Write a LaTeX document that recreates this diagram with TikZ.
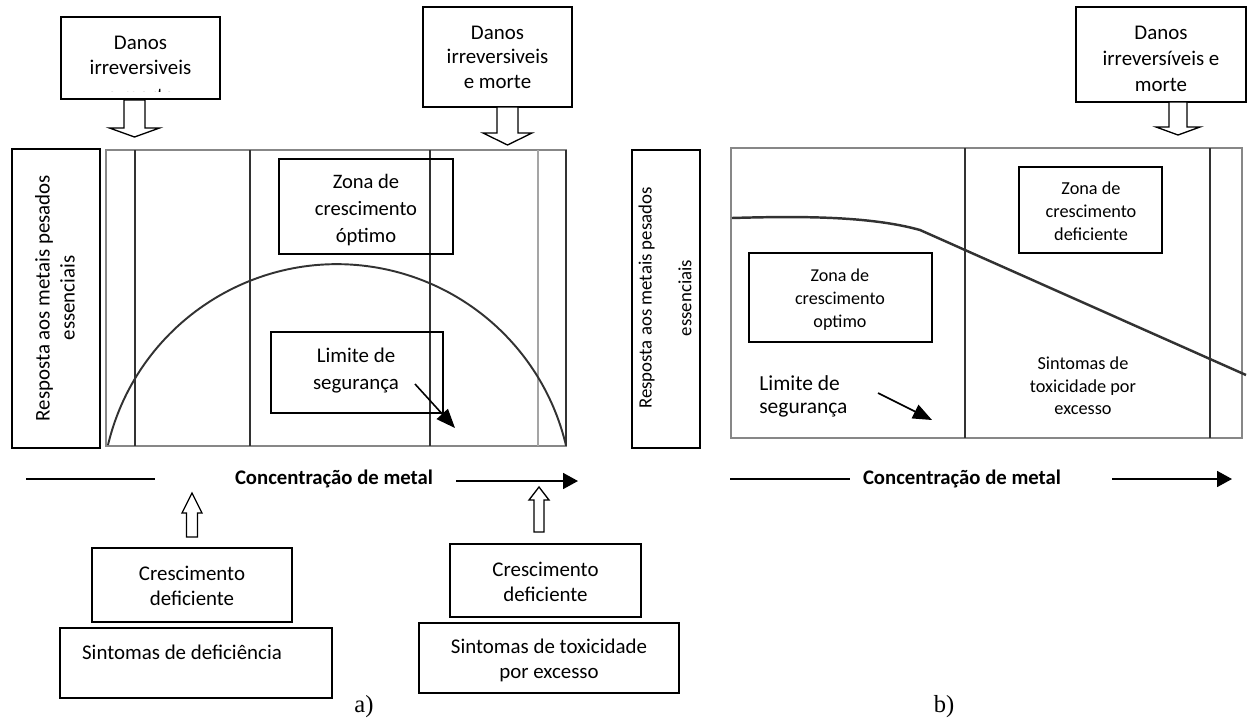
\documentclass[tikz,border=0pt]{standalone}
\usepackage{fontspec}
\setmainfont{Carlito}
\newfontfamily\tnr{Liberation Serif}
\usetikzlibrary{arrows.meta}
\definecolor{frameg}{RGB}{135,135,135}
\definecolor{darkl}{RGB}{50,50,50}
\definecolor{lightl}{RGB}{165,165,165}
\begin{document}
\begin{tikzpicture}[x=0.02cm,y=-0.02cm,
  box/.style={draw=black,line width=0.75pt,inner sep=0pt},
  txt/.style={inner sep=0pt,align=center,font=\fontsize{11.9}{14.2}\selectfont},
  stxt/.style={inner sep=0pt,align=center,font=\fontsize{10.3}{13}\selectfont},
  frame/.style={draw=frameg,line width=1.4pt,inner sep=0pt},
  zline/.style={draw=darkl,line width=1.3pt},
  lzline/.style={draw=lightl,line width=1.1pt},
  curve/.style={draw=darkl,line width=1.1pt},
  hollow/.style={draw=black,line width=0.75pt,fill=white,line join=miter},
  axisline/.style={line width=1pt},
  axisarrow/.style={line width=1pt,-{Triangle[length=0.3cm,width=0.32cm]}},
  pointer/.style={line width=0.9pt,-{Triangle[length=0.38cm,width=0.3cm]}},
  axistxt/.style={inner sep=0pt,font=\bfseries\fontsize{11.8}{14}\selectfont},
  captxt/.style={inner sep=0pt,font=\tnr\fontsize{14}{16}\selectfont},
]
\useasboundingbox (0,0) rectangle (1248,724);

% ===================== panel a =====================
% top-left box (third line cut off by the box)
\node[box,minimum width=3.18cm,minimum height=1.64cm] (dA) at (140.5,58) {};
\node[txt] (dAt) at (140.5,55.5) {Danos\\irreversiveis};
\begin{scope}
  \clip (62,18) rectangle (219,91);
  \node[txt,anchor=base] (dAc) at (140.5,102.5) {e morte};
\end{scope}
\coordinate (aLt) at (134.5,100);
\draw[hollow] (aLt) ++(-10.5,0) -- ++(21,0) -- ++(0,28) -- ++(14.5,0) -- ++(-25,9) -- ++(-25,-9) -- ++(14.5,0) -- cycle;

% top-right box
\node[box,minimum width=2.98cm,minimum height=2cm] (dB) at (497.5,57) {};
\node[txt,font=\fontsize{11.9}{13.9}\selectfont] (dBt) at (497.5,57) {Danos\\irreversiveis\\e morte};
\coordinate (aRt) at (507.5,107);
\draw[hollow] (aRt) ++(-10.5,0) -- ++(21,0) -- ++(0,26) -- ++(14,0) -- ++(-24.5,12) -- ++(-24.5,-12) -- ++(14,0) -- cycle;

% y label
\node[box,minimum width=1.76cm,minimum height=5.98cm] (ylA) at (56,298.5) {};
\node[txt,rotate=90] (ylAt) at (55,298) {Resposta aos metais pesados\\essenciais};

% plot frame and zone lines
\node[frame,minimum width=9.2cm,minimum height=5.92cm] (pA) at (336,298) {};
\draw[zline] (135,150) -- (135,446);
\draw[zline] (250,150) -- (250,446);
\draw[zline] (430,150) -- (430,446);
\draw[lzline] (538,150) -- (538,446);
\draw[zline] (566,150) -- (566,446);
\draw[curve] (108,445) arc[start angle=166.6,end angle=13.4,radius=4.708cm];

\node[box,minimum width=3.48cm,minimum height=1.9cm] (zA) at (366,206.5) {};
\node[txt,font=\fontsize{11.7}{15.1}\selectfont] (zAt) at (366,210) {Zona de\\crescimento\\óptimo};

\node[box,minimum width=3.44cm,minimum height=1.62cm] (lA) at (357,372.5) {};
\node[txt,font=\fontsize{11.9}{15.2}\selectfont] (lAt) at (356,370.5) {Limite de\\segurança};
\coordinate (lAs) at (415,384);
\coordinate (lAp) at (455,428);
\draw[pointer] (lAs) -- (lAp);

% axis
\node[axistxt] (axA) at (334,479) {Concentração de metal};
\coordinate (axAl) at (26,479);
\coordinate (axAr) at (155,479);
\draw[axisline] (axAl) -- (axAr);
\coordinate (axAs) at (456,481);
\coordinate (axAe) at (578,481);
\draw[axisarrow] (axAs) -- (axAe);

% bottom boxes
\coordinate (uLt) at (192,493);
\draw[hollow] (uLt) -- ++(10,20) -- ++(-4.5,0) -- ++(0,24) -- ++(-11,0) -- ++(0,-24) -- ++(-4.5,0) -- cycle;
\coordinate (uRt) at (539,487);
\draw[hollow] (uRt) -- ++(10,13) -- ++(-5,0) -- ++(0,32) -- ++(-10,0) -- ++(0,-32) -- ++(-5,0) -- cycle;

\node[box,minimum width=4cm,minimum height=1.48cm] (cA) at (192,585) {};
\node[txt] (cAt) at (192,585.5) {Crescimento\\deficiente};
\node[box,minimum width=5.44cm,minimum height=1.4cm] (sA) at (196,663) {};
\node[txt] (sAt) at (182,652) {Sintomas de deficiência};

\node[box,minimum width=3.82cm,minimum height=1.46cm] (cB) at (545.5,580.5) {};
\node[txt] (cBt) at (545.5,581.5) {Crescimento\\deficiente};
\node[box,minimum width=5.2cm,minimum height=1.4cm] (sB) at (549,658) {};
\node[txt] (sBt) at (549,660.5) {Sintomas de toxicidade\\por excesso};

\node[captxt] (capa) at (364,707) {a)};

% ===================== panel b =====================
\node[box,minimum width=3.4cm,minimum height=1.9cm] (dC) at (1161,54.5) {};
\node[txt,font=\fontsize{11.9}{14.7}\selectfont] (dCt) at (1161,59) {Danos\\irreversíveis e\\morte};
\coordinate (aBt) at (1178,102);
\draw[hollow] (aBt) ++(-9,0) -- ++(18,0) -- ++(0,25) -- ++(13,0) -- ++(-22,8) -- ++(-22,-8) -- ++(13,0) -- cycle;

\node[box,minimum width=1.36cm,minimum height=5.96cm] (ylB) at (666,299) {};
\node[txt,rotate=90,font=\fontsize{10.7}{22.7}\selectfont] (ylBt) at (665,298) {Resposta aos metais pesados\\essenciais};

\node[frame,minimum width=10.22cm,minimum height=5.8cm] (pB) at (986.5,293) {};
\draw[zline] (965,148) -- (965,438);
\draw[zline] (1210,148) -- (1210,438);
\draw[curve,line width=1.4pt] (732,218) .. controls (800,216) and (870,216) .. (920,230) -- (1246,375);

\node[box,minimum width=3.66cm,minimum height=1.78cm] (zB) at (840.5,297.5) {};
\node[stxt] (zBt) at (840,300) {Zona de\\crescimento\\optimo};

\node[txt,align=left,anchor=west,font=\fontsize{12.2}{13.2}\selectfont] (lBt) at (759,396.5) {Limite de\\segurança};
\coordinate (lBs) at (878,393);
\coordinate (lBp) at (932,420);
\draw[pointer] (lBs) -- (lBp);

\node[box,minimum width=2.86cm,minimum height=1.72cm] (zC) at (1090.5,210) {};
\node[stxt,font=\fontsize{10.4}{13}\selectfont] (zCt) at (1091,211) {Zona de\\crescimento\\deficiente};

\node[stxt,font=\fontsize{10.4}{12.8}\selectfont] (tBt) at (1083,386) {Sintomas de\\toxicidade por\\excesso};

\node[axistxt] (axB) at (962,479) {Concentração de metal};
\coordinate (axBl) at (730,479);
\coordinate (axBr) at (850,479);
\draw[axisline] (axBl) -- (axBr);
\coordinate (axBs) at (1112,479);
\coordinate (axBe) at (1232,479);
\draw[axisarrow] (axBs) -- (axBe);

\node[captxt] (capb) at (944,707) {b)};
\end{tikzpicture}
\end{document}
